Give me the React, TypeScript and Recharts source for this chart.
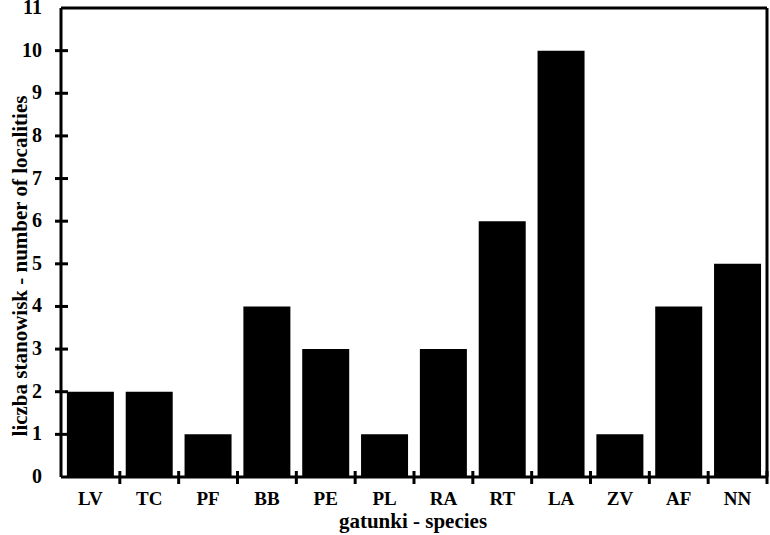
import React from 'react';
import { BarChart, Bar, XAxis, YAxis, ReferenceLine } from 'recharts';

const species = ['LV', 'TC', 'PF', 'BB', 'PE', 'PL', 'RA', 'RT', 'LA', 'ZV', 'AF', 'NN'];
const localities = [2, 2, 1, 4, 3, 1, 3, 6, 10, 1, 4, 5];
const yTicks = [0, 1, 2, 3, 4, 5, 6, 7, 8, 9, 10, 11];

const data = species.map((name, i) => ({ name, value: localities[i] }));

const W = 770;
const H = 535;
const LEFT = 61;
const RIGHT = 767;
const TOP = 8;
const BOTTOM = 477;
const BAND = (RIGHT - LEFT) / species.length;
const FONT = '"Liberation Serif", "Times New Roman", serif';

const YTick = ({ y, payload }: any) => (
  <g>
    {payload.value !== 11 && payload.value !== 0 && (
      <line x1={LEFT - 6} x2={LEFT + 7} y1={y} y2={y} stroke="#000" strokeWidth={3} />
    )}
    <text x={42} y={y} dy={6} textAnchor="end" fontFamily={FONT} fontWeight="bold" fontSize={20} fill="#000">
      {payload.value}
    </text>
  </g>
);

const XTick = ({ x, payload, index }: any) => (
  <g>
    {index > 0 && (
      <line x1={x - BAND / 2} x2={x - BAND / 2} y1={BOTTOM - 6} y2={BOTTOM + 7} stroke="#000" strokeWidth={3} />
    )}
    {index === species.length - 1 && (
      <line x1={x + BAND / 2} x2={x + BAND / 2} y1={BOTTOM - 6} y2={BOTTOM + 7} stroke="#000" strokeWidth={3} />
    )}
    <text x={x} y={BOTTOM + 28} textAnchor="middle" fontFamily={FONT} fontWeight="bold" fontSize={19} fill="#000">
      {payload.value}
    </text>
  </g>
);

const XLabel = () => (
  <text x={(LEFT + RIGHT) / 2 - 1} y={528} textAnchor="middle" fontFamily={FONT} fontWeight="bold" fontSize={21} fill="#000">
    gatunki - species
  </text>
);

const YLabel = () => {
  const cy = 266;
  return (
    <text
      x={20}
      y={cy}
      transform={`rotate(-90 20 ${cy})`}
      textAnchor="middle"
      dy={7}
      fontFamily={FONT}
      fontWeight="bold"
      fontSize={21}
      fill="#000"
    >
      liczba stanowisk - number of localities
    </text>
  );
};

export default function App() {
  return (
    <div style={{ width: W, height: H, background: '#fff' }}>
      <style>{`body{margin:0}`}</style>
      <BarChart
        width={W}
        height={H}
        data={data}
        margin={{ top: TOP, right: 0, left: 0, bottom: 0 }}
        barCategoryGap="10%"
      >
        <XAxis
          dataKey="name"
          interval={0}
          tick={<XTick />}
          tickLine={false}
          axisLine={{ stroke: '#000', strokeWidth: 3 }}
          height={H - BOTTOM}
          label={{ value: 'gatunki - species', content: XLabel }}
        />
        <YAxis
          domain={[0, 11]}
          ticks={yTicks}
          interval={0}
          tick={<YTick />}
          tickLine={false}
          width={LEFT}
          axisLine={{ stroke: '#000', strokeWidth: 3 }}
          label={{ value: 'liczba stanowisk - number of localities', content: YLabel }}
        />
        <YAxis
          yAxisId="right"
          orientation="right"
          domain={[0, 11]}
          tick={false}
          tickLine={false}
          width={W - RIGHT}
          axisLine={{ stroke: '#000', strokeWidth: 3 }}
        />
        <ReferenceLine y={11} stroke="#000" strokeWidth={3} ifOverflow="visible" />
        <Bar dataKey="value" fill="#000" isAnimationActive={false} />
      </BarChart>
    </div>
  );
}
